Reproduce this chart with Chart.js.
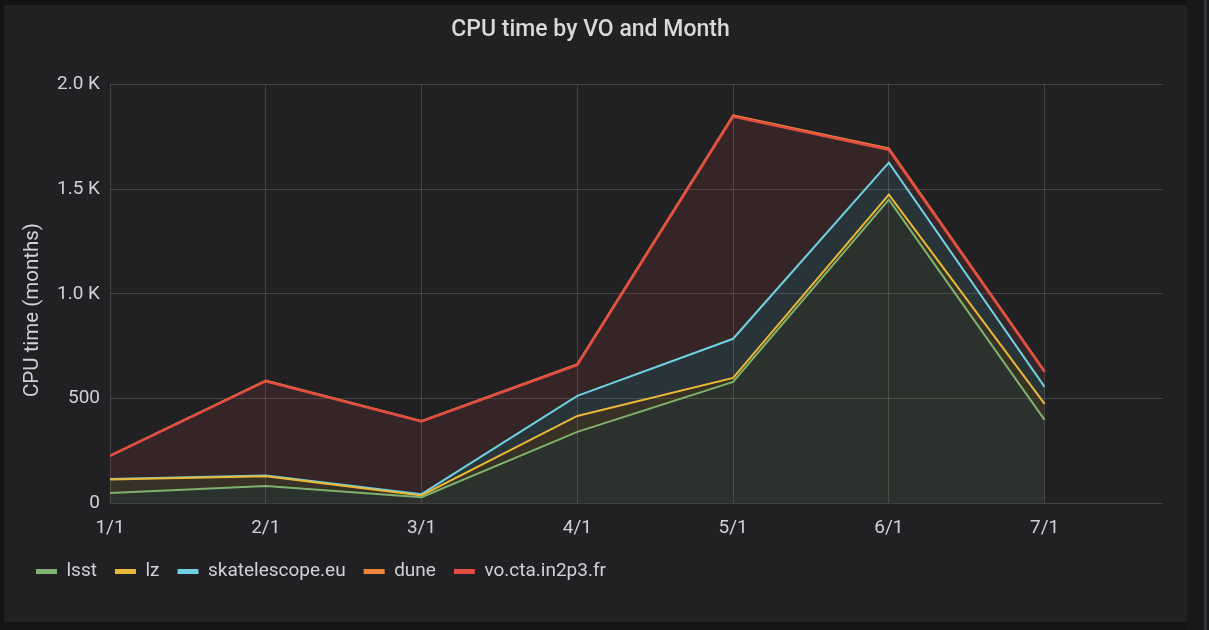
<!DOCTYPE html>
<html>
<head>
<meta charset="utf-8">
<script src="https://cdn.jsdelivr.net/npm/chart.js@4.4.0/dist/chart.umd.min.js"></script>
<style>
  html, body { margin: 0; padding: 0; width: 1209px; height: 630px; overflow: hidden; background: #141416; }
  #panel { position: absolute; left: 4px; top: 5px; width: 1183px; height: 617px; background: #212124; }
  #strip { position: absolute; left: 1187px; top: 0; width: 22px; height: 630px; background: #18181a; }
  #edge { position: absolute; left: 1204px; top: 0; width: 3px; height: 630px; background: #33353d; }
  canvas { display: block; }
</style>
</head>
<body>
<div id="strip"></div>
<div id="edge"></div>
<div id="panel"><canvas id="myChart" width="1183" height="617"></canvas></div>
<script>
// Meses del eje x
const labels = ['1/1', '2/1', '3/1', '4/1', '5/1', '6/1', '7/1'];

// Valores por VO (apilados)
const lsst = [48, 81, 28, 340, 579, 1450, 397];
const lz = [64, 47, 8, 76, 19, 24, 77];
const skate = [3, 3, 6, 96, 187, 153, 81];
const dune = [2, 3, 2, 4, 6, 6, 4];
const cta = [110, 451, 348, 148, 1062, 62, 72];

// Marcas del eje y
const yTicks = [0, 500, 1000, 1500, 2000];

// dune queda casi oculto bajo la línea roja (se dibuja detrás)
const series = [
    { name: 'lsst', values: lsst, color: '#7EB26D', fill: 'origin', order: 0 },
    { name: 'lz', values: lz, color: '#EAB839', fill: '-1', order: 0 },
    { name: 'skatelescope.eu', values: skate, color: '#6ED0E0', fill: '-1', order: 0 },
    { name: 'dune', values: dune, color: '#EF843C', fill: false, order: 1 },
    { name: 'vo.cta.in2p3.fr', values: cta, color: '#E24D42', fill: 2, order: 0 }
];

function alpha(hex, a) {
    const n = parseInt(hex.slice(1), 16);
    return 'rgba(' + (n >> 16) + ',' + ((n >> 8) & 255) + ',' + (n & 255) + ',' + a + ')';
}

const datasets = series.map((s, i) => ({
    label: s.name,
    data: s.values.map((v, j) => ({ x: j, y: v })),
    borderColor: s.color,
    backgroundColor: alpha(s.color, 0.11),
    borderWidth: i === 4 ? 2.5 : 2,
    pointRadius: 0,
    tension: 0,
    fill: s.fill,
    order: s.order
}));

Chart.defaults.font.family = 'Roboto';

// Título del eje y, dibujado a mano para centrarlo como en Grafana
const yTitle = {
    id: 'yTitle',
    afterDraw(chart) {
        const c = chart.ctx;
        c.save();
        c.translate(29, 305);
        c.rotate(-Math.PI / 2);
        c.font = '20.5px Roboto';
        c.fillStyle = '#d0d2d6';
        c.textAlign = 'center';
        c.textBaseline = 'middle';
        c.fillText('CPU time (months)', 0, 0);
        c.restore();
    }
};

const ctx = document.getElementById('myChart').getContext('2d');
const chart = new Chart(ctx, {
    type: 'line',
    data: { datasets: datasets },
    plugins: [yTitle],
    options: {
        responsive: false,
        animation: false,
        events: [],
        layout: { padding: { left: 14, right: 24, top: 0, bottom: 31 } },
        scales: {
            x: {
                type: 'linear',
                min: 0,
                max: 6.76,
                border: { display: false },
                grid: { color: 'rgba(255,255,255,0.15)', drawTicks: false },
                ticks: {
                    stepSize: 1,
                    includeBounds: false,
                    padding: 14,
                    color: '#d0d2d6',
                    font: { size: 19 },
                    maxRotation: 0,
                    callback: v => labels[v] !== undefined ? labels[v] : ''
                },
                afterFit: s => { s.height = 41; }
            },
            y: {
                stacked: true,
                min: yTicks[0],
                max: yTicks[yTicks.length - 1],
                border: { display: false },
                grid: { color: 'rgba(255,255,255,0.15)', drawTicks: false },
                afterBuildTicks: s => { s.ticks = yTicks.map(v => ({ value: v })); },
                ticks: {
                    padding: 10,
                    color: '#d0d2d6',
                    font: { size: 19 },
                    callback: v => v >= 1000 ? (v / 1000).toFixed(1) + ' K' : String(v)
                },
                afterFit: s => { s.width = 92; }
            }
        },
        plugins: {
            title: {
                display: true,
                text: 'CPU time by VO and Month',
                color: '#d8d9da',
                font: { size: 23, weight: '500' },
                padding: { top: 11, bottom: 41 }
            },
            legend: {
                display: true,
                position: 'bottom',
                align: 'start',
                labels: {
                    color: '#d0d2d6',
                    font: { size: 19 },
                    boxWidth: 21,
                    boxHeight: 5,
                    padding: 18,
                    useBorderRadius: true,
                    borderRadius: 2.5,
                    generateLabels: c => c.data.datasets.map((d, i) => ({
                        text: d.label,
                        fillStyle: d.borderColor,
                        strokeStyle: d.borderColor,
                        lineWidth: 0,
                        fontColor: '#d0d2d6',
                        datasetIndex: i
                    }))
                }
            },
            tooltip: { enabled: false }
        }
    }
});
</script>
</body>
</html>
